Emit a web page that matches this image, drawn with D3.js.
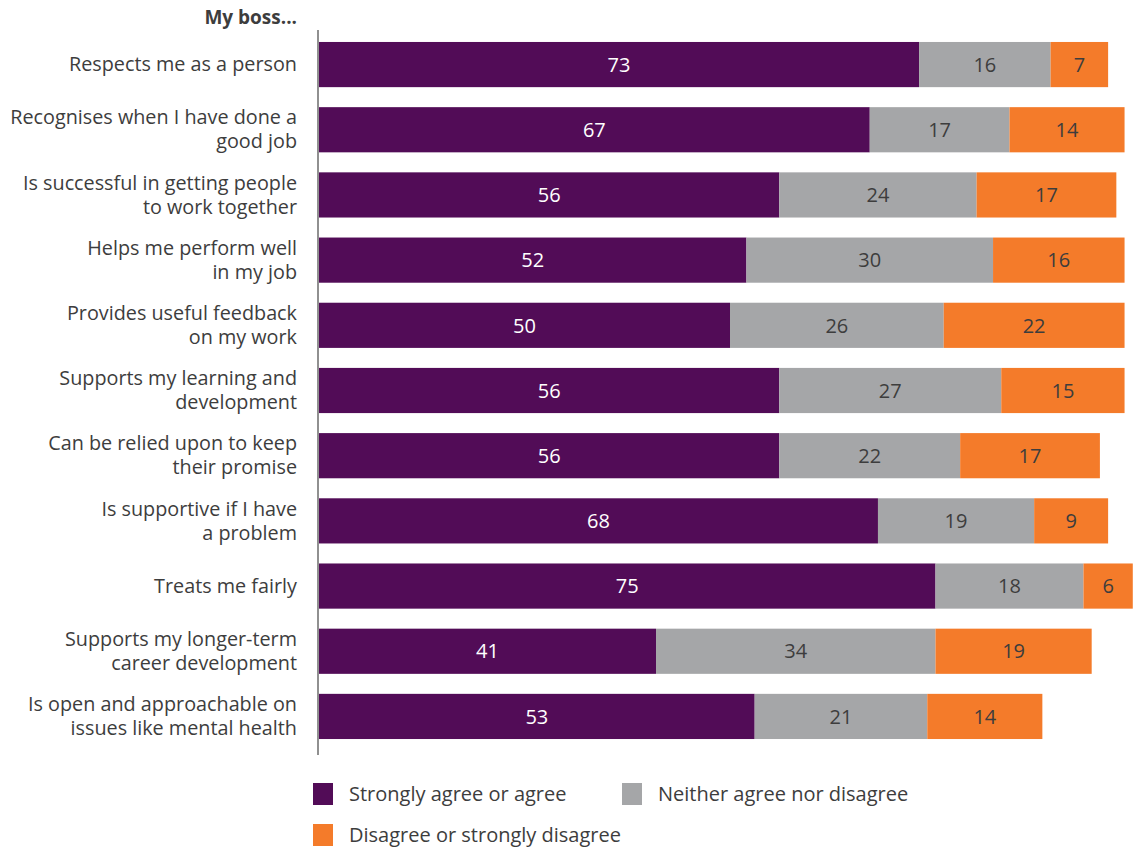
<!DOCTYPE html>
<html>
<head>
<meta charset="utf-8">
<script src="https://cdn.jsdelivr.net/npm/d3@7"></script>
<style>
  html, body { margin: 0; padding: 0; background: #fff; }
  svg { display: block; font-family: "Open Sans", "Noto Sans", sans-serif; }
</style>
</head>
<body>
<svg id="chart" width="1133" height="848"></svg>
<script>
// Statements about the respondent's manager (label lines)
const categories = [
  ["Respects me as a person"],
  ["Recognises when I have done a", "good job"],
  ["Is successful in getting people", "to work together"],
  ["Helps me perform well", "in my job"],
  ["Provides useful feedback", "on my work"],
  ["Supports my learning and", "development"],
  ["Can be relied upon to keep", "their promise"],
  ["Is supportive if I have", "a problem"],
  ["Treats me fairly"],
  ["Supports my longer-term", "career development"],
  ["Is open and approachable on", "issues like mental health"]
];

// Percentages per response group
const agree    = [73, 67, 56, 52, 50, 56, 56, 68, 75, 41, 53];
const neither  = [16, 17, 24, 30, 26, 27, 22, 19, 18, 34, 21];
const disagree = [7, 14, 17, 16, 22, 15, 17, 9, 6, 19, 14];

const seriesNames = ["Strongly agree or agree", "Neither agree nor disagree", "Disagree or strongly disagree"];
const seriesColors = ["#520c57", "#a5a6a8", "#f47b2a"];
const labelColors = ["#ffffff", "#3d3d3d", "#3d3d3d"];

const svg = d3.select("#chart");

const rows = categories.map((c, i) => ({
  idx: i, lines: c, values: [agree[i], neither[i], disagree[i]]
}));

const x = d3.scaleLinear().domain([0, 100]).range([319, 1141]);
const y = d3.scaleBand()
  .domain(d3.range(categories.length))
  .range([32, 749])
  .paddingInner(0.307)
  .paddingOuter(0.153);

// Stacked segments
const segs = [];
rows.forEach(r => {
  let acc = 0;
  r.values.forEach((v, k) => {
    segs.push({ row: r.idx, k, x0: acc, x1: acc + v, v });
    acc += v;
  });
});

svg.append("g").selectAll("rect")
  .data(segs)
  .join("rect")
  .attr("x", d => x(d.x0))
  .attr("width", d => x(d.x1) - x(d.x0))
  .attr("y", d => y(d.row))
  .attr("height", y.bandwidth())
  .attr("fill", d => seriesColors[d.k]);

svg.append("g").selectAll("text")
  .data(segs)
  .join("text")
  .attr("x", d => (x(d.x0) + x(d.x1)) / 2)
  .attr("y", d => y(d.row) + y.bandwidth() / 2)
  .attr("dy", "0.36em")
  .attr("text-anchor", "middle")
  .attr("font-size", 20)
  .attr("fill", d => labelColors[d.k])
  .text(d => d.v);

// Vertical axis line
svg.append("line")
  .attr("x1", 318).attr("x2", 318)
  .attr("y1", 30).attr("y2", 755)
  .attr("stroke", "#6b6b6b")
  .attr("stroke-width", 1.5);

// Category labels
const lab = svg.append("g").selectAll("text")
  .data(rows)
  .join("text")
  .attr("text-anchor", "end")
  .attr("font-size", 19.8)
  .attr("fill", "#3d3d3d");

lab.each(function(d) {
  const t = d3.select(this);
  const cy = y(d.idx) + y.bandwidth() / 2;
  const lh = 24;
  const start = cy - (d.lines.length - 1) * lh / 2;
  d.lines.forEach((ln, j) => {
    t.append("tspan")
      .attr("x", 297)
      .attr("y", start + j * lh)
      .attr("dy", "0.34em")
      .text(ln);
  });
});

// Heading
svg.append("text")
  .attr("x", 297).attr("y", 24)
  .attr("text-anchor", "end")
  .attr("font-size", 19)
  .attr("font-weight", "bold")
  .attr("fill", "#3d3d3d")
  .text("My boss...");

// Legend
const legendPos = [[313, 783], [622, 783], [313, 824]];
const lg = svg.append("g").selectAll("g")
  .data(seriesNames)
  .join("g")
  .attr("transform", (d, i) => `translate(${legendPos[i][0]},${legendPos[i][1]})`);
lg.append("rect")
  .attr("width", 20).attr("height", 22)
  .attr("fill", (d, i) => seriesColors[i]);
lg.append("text")
  .attr("x", 36).attr("y", 11).attr("dy", "0.36em")
  .attr("font-size", 20)
  .attr("fill", "#3d3d3d")
  .text(d => d);
</script>
</body>
</html>
